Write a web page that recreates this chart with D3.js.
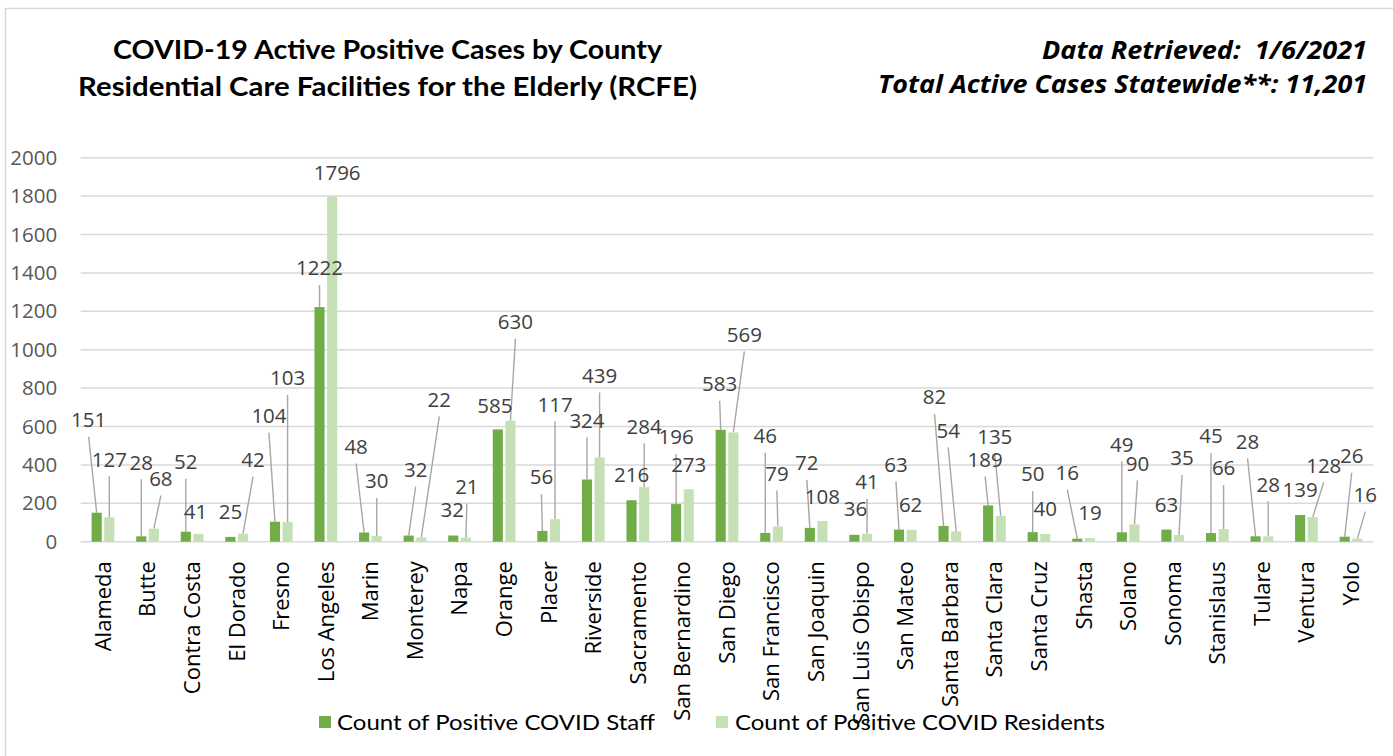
<!DOCTYPE html>
<html>
<head>
<meta charset="utf-8">
<script src="https://cdn.jsdelivr.net/npm/d3@7"></script>
<style>
  html, body { margin: 0; padding: 0; background: #ffffff; }
  svg { display: block; }
  text { white-space: pre; }
</style>
</head>
<body>
<svg id="chart" width="1393" height="756"></svg>
<script>
// ---------- data ----------
const categories = ["Alameda","Butte","Contra Costa","El Dorado","Fresno","Los Angeles","Marin","Monterey","Napa","Orange","Placer","Riverside","Sacramento","San Bernardino","San Diego","San Francisco","San Joaquin","San Luis Obispo","San Mateo","Santa Barbara","Santa Clara","Santa Cruz","Shasta","Solano","Sonoma","Stanislaus","Tulare","Ventura","Yolo"];
const staffValues    = [151,28,52,25,104,1222,48,32,32,585,56,324,216,196,583,46,72,36,63,82,189,50,16,49,63,45,28,139,26];
const residentValues = [127,68,41,42,103,1796,30,22,21,630,117,439,284,273,569,79,108,41,62,54,135,40,19,90,35,66,28,128,16];
const yTicks = [0,200,400,600,800,1000,1200,1400,1600,1800,2000];
const seriesNames = ["Count of Positive COVID Staff","Count of Positive COVID Residents"];
const titleLines = ["COVID-19 Active Positive Cases by County","Residential Care Facilities for the Elderly (RCFE)"];
const headerLines = ["Data Retrieved:  1/6/2021","Total Active Cases Statewide**: 11,201"];

// ---------- layout (label placement offsets in px, relative to bar top) ----------
const staffLabelOffsets = [[-8,-93],[0,-74],[0,-70],[0,-25],[-6,-106],[0,-39],[-8,-86],[7,-66],[-1,-26],[-3,-24],[-1,-54],[0,-59],[0,-26],[0,-67],[-1,-46],[0,-97],[-3,-65],[1,-26],[-3,-65],[-9,-129],[-3,-46],[0,-58],[-10,-66],[0,-88],[0,-25],[0,-97],[-8,-95],[0,-25],[7,-81]];
const residentLabelOffsets = [[0,-58],[7,-50],[-3,-22],[10,-74],[0,-144],[5,-24],[0,-55],[18,-138],[1,-51],[5,-99],[0,-115],[0,-82],[0,-61],[0,-25],[11,-98],[-1,-53],[0,-24],[0,-52],[-1,-25],[-8,-101],[-6,-79],[0,-25],[0,-25],[3,-61],[3,-77],[0,-61],[0,-52],[11,-52],[8,-44]];

const colors = { staff: "#70AD47", res: "#C5E0B4" };
const W = 1393, H = 756;
const plot = { left: 80.7, right: 1373.3, top: 157.7, bottom: 541.7 };

const svg = d3.select("#chart");
svg.append("rect").attr("width", W).attr("height", H).attr("fill", "#fff");

// chart border (only top & left visible)
svg.append("path")
  .attr("d", `M5.5,${H + 5} L5.5,8.5 L${W + 5},8.5`)
  .attr("fill", "none").attr("stroke", "#d9d9d9").attr("stroke-width", 1.5);

// scales
const x0 = d3.scaleBand().domain(categories).range([plot.left, plot.right]).paddingInner(0.49).paddingOuter(0.245);
const x1 = d3.scaleBand().domain(["staff","res"]).range([0, x0.bandwidth()]).paddingInner(0.2);
const y = d3.scaleLinear().domain([0, 2000]).range([plot.bottom, plot.top]);

// gridlines
svg.append("g").selectAll("line").data(yTicks).join("line")
  .attr("x1", plot.left).attr("x2", plot.right)
  .attr("y1", d => y(d)).attr("y2", d => y(d))
  .attr("stroke", "#d9d9d9").attr("stroke-width", 1.5);

// y axis
const yAxis = svg.append("g").attr("transform", `translate(${plot.left},0)`)
  .call(d3.axisLeft(y).tickValues(yTicks).tickSize(0).tickPadding(23.5).tickFormat(d3.format("d")));
yAxis.select(".domain").remove();
yAxis.selectAll("text")
  .attr("font-family", "'Open Sans', sans-serif").attr("font-size", "20.5px").attr("fill", "#595959");

// x axis (category labels rotated)
const xAxis = svg.append("g").attr("transform", `translate(0,${plot.bottom})`)
  .call(d3.axisBottom(x0).tickSize(0));
xAxis.select(".domain").remove();
xAxis.selectAll("text")
  .attr("transform", "rotate(-90)")
  .attr("text-anchor", "end")
  .attr("x", -19.5).attr("y", 0).attr("dy", "0.36em")
  .attr("font-family", "'Open Sans', sans-serif").attr("font-size", "22px").attr("fill", "#000");

// build bar records
const bars = [];
categories.forEach((c, i) => {
  bars.push({ cat: c, key: "staff", value: staffValues[i], off: staffLabelOffsets[i] });
  bars.push({ cat: c, key: "res", value: residentValues[i], off: residentLabelOffsets[i] });
});
bars.forEach(b => {
  b.cx = x0(b.cat) + x1(b.key) + x1.bandwidth() / 2;
  b.top = y(b.value);
  b.lx = b.cx + b.off[0];
  b.ly = b.top + b.off[1];
});

// leader lines
svg.append("g").selectAll("line").data(bars.filter(b => b.top - (b.ly + 17) > 12)).join("line")
  .attr("x1", b => b.lx).attr("y1", b => b.ly + 17)
  .attr("x2", b => b.cx).attr("y2", b => b.top)
  .attr("stroke", "#a6a6a6").attr("stroke-width", 1.4);

// bars
svg.append("g").selectAll("rect").data(bars).join("rect")
  .attr("x", b => x0(b.cat) + x1(b.key))
  .attr("y", b => y(b.value))
  .attr("width", x1.bandwidth())
  .attr("height", b => y(0) - y(b.value))
  .attr("fill", b => colors[b.key]);

// data labels
svg.append("g").selectAll("text").data(bars).join("text")
  .attr("x", b => b.lx).attr("y", b => b.ly).attr("dy", "0.36em")
  .attr("text-anchor", "middle")
  .attr("font-family", "'Open Sans', sans-serif").attr("font-size", "20.5px").attr("fill", "#404040")
  .text(b => b.value);

// title
svg.append("g").selectAll("text").data(titleLines).join("text")
  .attr("x", 387.5).attr("y", (d, i) => i === 0 ? 59.3 : 95.5)
  .attr("text-anchor", "middle")
  .attr("font-family", "Lato, sans-serif").attr("font-weight", "bold").attr("font-size", "27px")
  .attr("fill", "#000")
  .attr("textLength", (d, i) => i === 0 ? 549 : 619).attr("lengthAdjust", "spacingAndGlyphs")
  .text(d => d);

// right header
svg.append("g").selectAll("text").data(headerLines).join("text")
  .attr("x", 1367).attr("y", (d, i) => i === 0 ? 59.3 : 93.3)
  .attr("text-anchor", "end")
  .attr("font-family", "'Open Sans', sans-serif").attr("font-weight", "bold").attr("font-style", "italic")
  .attr("font-size", "25px").attr("fill", "#000")
  .attr("textLength", (d, i) => i === 0 ? 325 : 489).attr("lengthAdjust", "spacingAndGlyphs")
  .text(d => d);

// legend
const legendItems = [
  { name: seriesNames[0], color: colors.staff, sx: 319, tx: 337, tl: 318 },
  { name: seriesNames[1], color: colors.res, sx: 716, tx: 735, tl: 370 }
];
const lg = svg.append("g");
lg.selectAll("rect").data(legendItems).join("rect")
  .attr("x", d => d.sx).attr("y", 716).attr("width", 12).attr("height", 12)
  .attr("fill", d => d.color);
lg.selectAll("text").data(legendItems).join("text")
  .attr("x", d => d.tx).attr("y", 722).attr("dy", "0.36em")
  .attr("font-family", "Lato, sans-serif").attr("font-size", "21px").attr("fill", "#000")
  .attr("textLength", d => d.tl).attr("lengthAdjust", "spacingAndGlyphs")
  .text(d => d.name);
</script>
</body>
</html>
